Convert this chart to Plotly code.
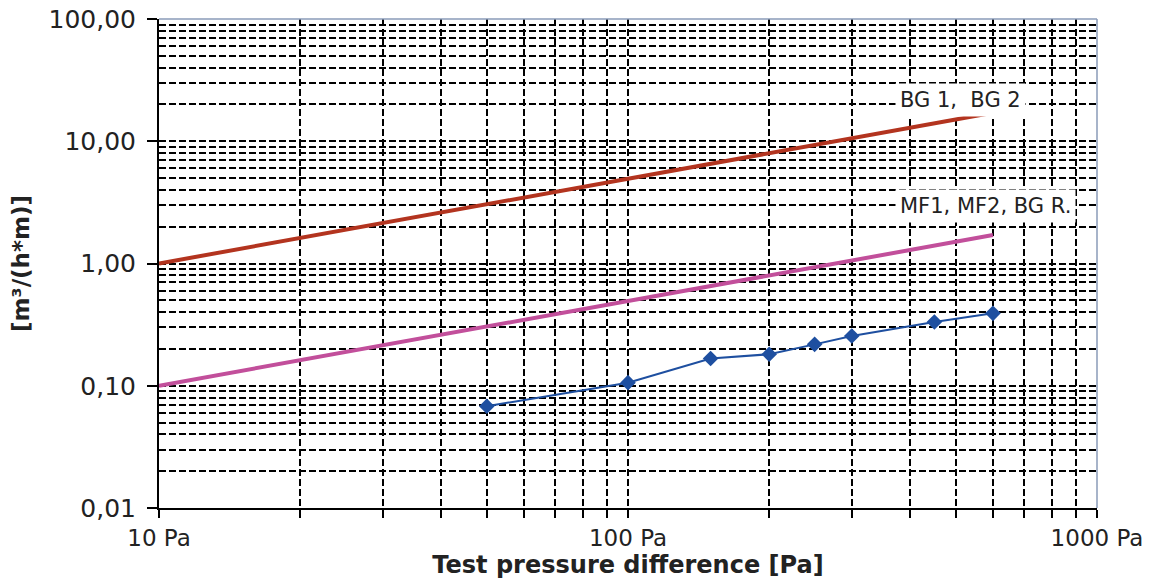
import plotly.graph_objects as go

# ---- data ----
class_x = [10, 600]
bg_y = [1.0, 17.1]          # BG 1, BG 2 class limit
mf_y = [0.10, 1.71]         # MF1, MF2, BG R. class limit
meas_x = [50, 100, 150, 200, 250, 300, 450, 600]
meas_y = [0.068, 0.106, 0.167, 0.181, 0.218, 0.255, 0.332, 0.391]

x_major = [10, 100, 1000]
x_major_text = ["10 Pa", "100 Pa", "1000 Pa"]
y_major = [0.01, 0.1, 1, 10, 100]
y_major_text = ["0,01", "0,10", "1,00", "10,00", "100,00"]
x_minor = [m * d for d in (10, 100) for m in range(2, 10)]
y_minor = [m * d for d in (0.01, 0.1, 1, 10) for m in range(2, 10)]

FONT = "DejaVu Sans"
grid = dict(showgrid=True, gridcolor="black", griddash="7px,3px", gridwidth=2)

fig = go.Figure()
fig.add_trace(go.Scatter(x=class_x, y=bg_y, mode="lines",
                         line=dict(color="#B3341F", width=4), name="BG 1, BG 2"))
fig.add_trace(go.Scatter(x=class_x, y=mf_y, mode="lines",
                         line=dict(color="#C24F9B", width=4), name="MF1, MF2, BG R."))
fig.add_trace(go.Scatter(x=meas_x, y=meas_y, mode="lines+markers",
                         line=dict(color="#1E4FA0", width=2),
                         marker=dict(symbol="diamond", size=12, color="#1E4FA0"),
                         name="measured"))

fig.update_xaxes(type="log", range=[1, 3], tickmode="array",
                 tickvals=x_major, ticktext=x_major_text,
                 ticks="outside", ticklen=8, tickwidth=2, tickcolor="black",
                 showline=True, linecolor="black", linewidth=2,
                 tickfont=dict(family=FONT, size=23, color="#222"),
                 ticklabeloverflow="allow",
                 title=dict(text="<b>Test pressure difference [Pa]</b>",
                            font=dict(family=FONT, size=24, color="#222"), standoff=4),
                 minor=dict(tickmode="array", tickvals=x_minor, ticks="outside",
                            ticklen=8, tickwidth=2, tickcolor="black", **grid),
                 zeroline=False, automargin=False, **grid)
fig.update_yaxes(type="log", range=[-2, 2], tickmode="array",
                 tickvals=y_major, ticktext=y_major_text,
                 ticks="outside", ticklen=10, tickwidth=2, tickcolor="black",
                 showline=True, linecolor="black", linewidth=2,
                 tickfont=dict(family=FONT, size=25, color="#222"),
                 ticklabelstandoff=6, ticklabeloverflow="allow",
                 title=dict(text="<b>[m³/(h*m)]</b>",
                            font=dict(family=FONT, size=23, color="#222"), standoff=12),
                 minor=dict(tickmode="array", tickvals=y_minor, ticks="", **grid),
                 zeroline=False, automargin=False, **grid)

# top & right frame
fig.add_shape(type="line", xref="paper", yref="paper", x0=0, x1=1, y0=1, y1=1,
              line=dict(color="#8a9bb8", width=1.5))
fig.add_shape(type="line", xref="paper", yref="paper", x0=1, x1=1, y0=0, y1=1,
              line=dict(color="#8a9bb8", width=1.5))

fig.add_annotation(xref="paper", yref="paper", x=0.785, y=0.869, xanchor="left",
                   text="BG 1,&nbsp; BG 2", showarrow=False, bgcolor="white",
                   borderpad=4, font=dict(family=FONT, size=21, color="#222"))
fig.add_annotation(xref="paper", yref="paper", x=0.785, y=0.618, xanchor="left",
                   text="MF1, MF2, BG R.", showarrow=False, bgcolor="white",
                   borderpad=4, font=dict(family=FONT, size=21, color="#222"))

fig.update_layout(width=1153, height=585, showlegend=False,
                  plot_bgcolor="white", paper_bgcolor="white",
                  margin=dict(l=151, r=64, t=11, b=85),
                  font=dict(family=FONT))
fig.write_html("out.html")
